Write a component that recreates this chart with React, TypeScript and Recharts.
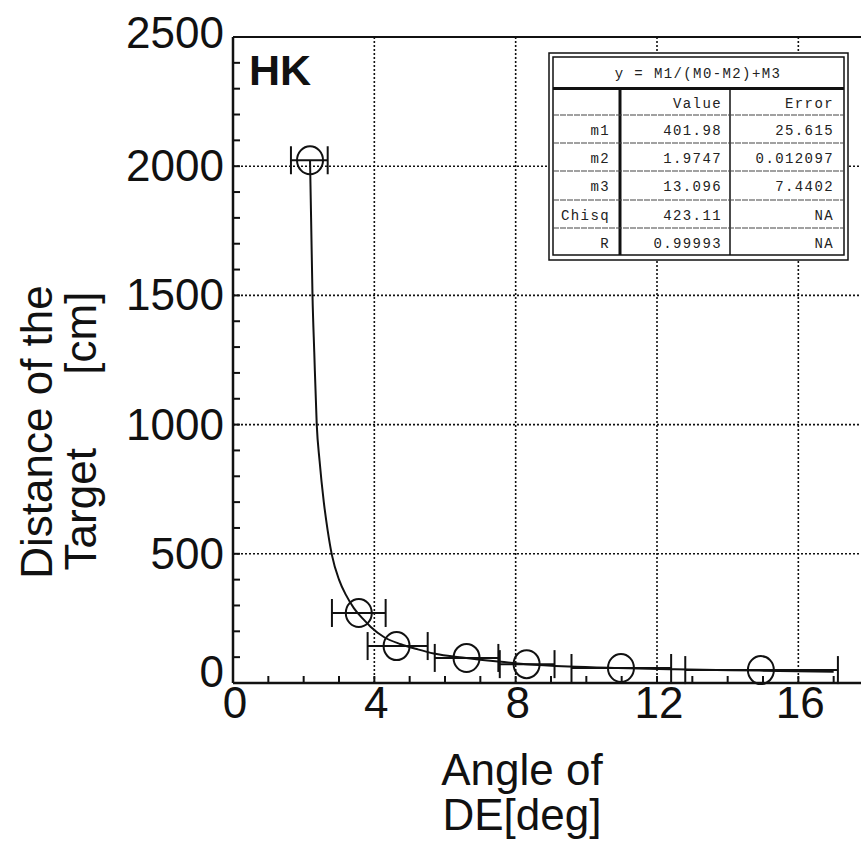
import React from 'react';
import { ComposedChart, XAxis, YAxis, Scatter, Line, ErrorBar, ReferenceLine } from 'recharts';

// measured points (angle of DE in deg, distance in cm) with x error ranges
const angle = [2.18, 3.56, 4.63, 6.61, 8.31, 10.98, 14.94];
const distance = [2023, 271, 143, 97, 73, 58, 50];
const angleLow = [1.64, 2.8, 3.81, 5.71, 7.55, 9.58, 12.8];
const angleHigh = [2.68, 4.32, 5.51, 7.51, 9.1, 12.4, 17.12];

// fitted curve
const fitAngle = [2.18, 2.21, 2.25, 2.3, 2.37, 2.45, 2.57, 2.68, 2.8, 3.0, 3.2, 3.42, 3.7, 3.9, 4.27, 4.75, 5.23, 5.68, 6.6, 7.5, 8.3, 9.5, 10.9, 12.5, 14.9, 17.0];
const fitDistance = [2023, 1800, 1500, 1280, 1000, 860, 700, 590, 495, 400, 340, 290, 245, 217, 178, 150, 130, 114, 97, 83, 73, 64, 58, 53, 48, 44];

const xTicks = [0, 1, 2, 3, 4, 5, 6, 7, 8, 9, 10, 11, 12, 13, 14, 15, 16, 17, 18];
const xLabels = [0, 4, 8, 12, 16];
const yTicks = [0, 100, 200, 300, 400, 500, 600, 700, 800, 900, 1000, 1100, 1200, 1300, 1400, 1500, 1600, 1700, 1800, 1900, 2000, 2100, 2200, 2300, 2400, 2500];
const yLabels = [0, 500, 1000, 1500, 2000, 2500];
const gridX = [4, 8, 12, 16];
const gridY = [500, 1000, 1500, 2000];

const fitTitle = 'y = M1/(M0-M2)+M3';
const fitHeader = ['', 'Value', 'Error'];
const fitRows = [
  ['m1', '401.98', '25.615'],
  ['m2', '1.9747', '0.012097'],
  ['m3', '13.096', '7.4402'],
  ['Chisq', '423.11', 'NA'],
  ['R', '0.99993', 'NA'],
];

const points = angle.map((x, i) => ({
  x,
  y: distance[i],
  ex: [x - angleLow[i], angleHigh[i] - x],
}));
const curve = fitAngle.map((x, i) => ({ x, y: fitDistance[i] }));

const INK = '#111';
const SANS = '"Liberation Sans", Arial, Helvetica, sans-serif';
const MONO = '"Liberation Mono", "Courier New", monospace';

// tick lines point inward, as in the original plot
const BottomTick = (props: any) => {
  const { x, y, payload } = props;
  return (
    <g>
      <line x1={x} x2={x} y1={y} y2={y - 7} stroke={INK} strokeWidth={2} />
      {xLabels.includes(payload.value) && (
        <text x={x + 2} y={y + 35} textAnchor="middle" fontSize={44} fontFamily={SANS} fill={INK}>
          {payload.value}
        </text>
      )}
    </g>
  );
};

const TopTick = (props: any) => {
  const { x, y } = props;
  return <line x1={x} x2={x} y1={y} y2={y + 7} stroke={INK} strokeWidth={2} />;
};

const LeftTick = (props: any) => {
  const { x, y, payload } = props;
  const v = payload.value;
  // end labels sit a little inside the axis range
  const dy = v === 0 ? 4 : v === 2500 ? 11 : 15;
  return (
    <g>
      <line x1={x} x2={x + 7} y1={y} y2={y} stroke={INK} strokeWidth={2} />
      {yLabels.includes(v) && (
        <text x={x - 9} y={y + dy} textAnchor="end" fontSize={44} fontFamily={SANS} fill={INK}>
          {v}
        </text>
      )}
    </g>
  );
};

const OpenCircle = (props: any) => (
  <ellipse cx={props.cx} cy={props.cy} rx={13} ry={14} fill="none" stroke={INK} strokeWidth={2} />
);

function FitTable() {
  const rowLines = [115, 143, 171, 200, 228];
  const baselines = [108, 135, 163, 191, 220, 248];
  const cols = [610, 722, 834];
  return (
    <g fontFamily={MONO} fontSize={14} fill="#222" letterSpacing={1.4}>
      <rect x={549} y={53} width={299} height={207} fill="#fff" stroke={INK} strokeWidth={1.5} />
      <rect x={553} y={57} width={291} height={198} fill="none" stroke={INK} strokeWidth={1.5} />
      <line x1={553} x2={844} y1={88.5} y2={88.5} stroke={INK} strokeWidth={3} />
      <line x1={620} x2={620} y1={88} y2={255} stroke={INK} strokeWidth={3} />
      <line x1={730} x2={730} y1={88} y2={255} stroke={INK} strokeWidth={1.5} />
      {rowLines.map((y) => (
        <line key={y} x1={553} x2={844} y1={y} y2={y} stroke="#444" strokeWidth={1.2} strokeDasharray="6 1" />
      ))}
      <text x={698} y={78} textAnchor="middle">{fitTitle}</text>
      {[fitHeader, ...fitRows].map((row, r) =>
        row.map((cell, c) => (
          <text key={`${r}-${c}`} x={cols[c]} y={baselines[r]} textAnchor="end">
            {cell}
          </text>
        ))
      )}
    </g>
  );
}

export default function App() {
  return (
    <div style={{ position: 'absolute', left: 0, top: 0, width: 861, height: 843, overflow: 'hidden', background: '#fff' }}>
      <ComposedChart width={875} height={843} margin={{ top: 27, right: 6, bottom: 100, left: 173 }}>
        <XAxis
          xAxisId="b"
          type="number"
          dataKey="x"
          domain={[0, 18]}
          ticks={xTicks}
          interval={0}
          height={60}
          tickSize={0}
          tickMargin={0}
          tick={<BottomTick />}
          axisLine={{ stroke: INK, strokeWidth: 2.5 }}
          tickLine={false}
        />
        <XAxis
          xAxisId="t"
          orientation="top"
          type="number"
          dataKey="x"
          domain={[0, 18]}
          ticks={xTicks}
          interval={0}
          height={10}
          tickSize={0}
          tickMargin={0}
          tick={<TopTick />}
          axisLine={{ stroke: INK, strokeWidth: 2 }}
          tickLine={false}
        />
        <YAxis
          type="number"
          dataKey="y"
          domain={[0, 2500]}
          ticks={yTicks}
          interval={0}
          width={60}
          tickSize={0}
          tickMargin={0}
          tick={<LeftTick />}
          axisLine={{ stroke: INK, strokeWidth: 2.5 }}
          tickLine={false}
        />
        {gridX.map((v) => (
          <ReferenceLine key={`gx${v}`} xAxisId="b" x={v} stroke={INK} strokeWidth={1.6} strokeDasharray="2 2" />
        ))}
        {gridY.map((v) => (
          <ReferenceLine key={`gy${v}`} xAxisId="b" y={v} stroke={INK} strokeWidth={1.6} strokeDasharray="2 2" />
        ))}
        <Line
          xAxisId="b"
          data={curve}
          dataKey="y"
          type="monotone"
          dot={false}
          stroke={INK}
          strokeWidth={2}
          isAnimationActive={false}
        />
        <Scatter xAxisId="b" data={points} shape={<OpenCircle />} isAnimationActive={false}>
          <ErrorBar dataKey="ex" direction="x" width={14} stroke={INK} strokeWidth={2} isAnimationActive={false} />
        </Scatter>
      </ComposedChart>
      <svg width={861} height={843} style={{ position: 'absolute', left: 0, top: 0, pointerEvents: 'none' }}>
        <text x={249} y={85} fontSize={43} fontWeight="bold" fontFamily={SANS} fill={INK}>HK</text>
        <FitTable />
        <g fontSize={44} fontFamily={SANS} fill={INK}>
          <text x={522} y={785} textAnchor="middle">Angle of</text>
          <text x={522} y={830} textAnchor="middle">DE[deg]</text>
          <text x={52} y={432} textAnchor="middle" transform="rotate(-90 52 432)">Distance of the</text>
          <text x={96} y={431} textAnchor="middle" transform="rotate(-90 96 431)" style={{ whiteSpace: 'pre' }}>
            {'Target      [cm]'}
          </text>
        </g>
      </svg>
    </div>
  );
}
